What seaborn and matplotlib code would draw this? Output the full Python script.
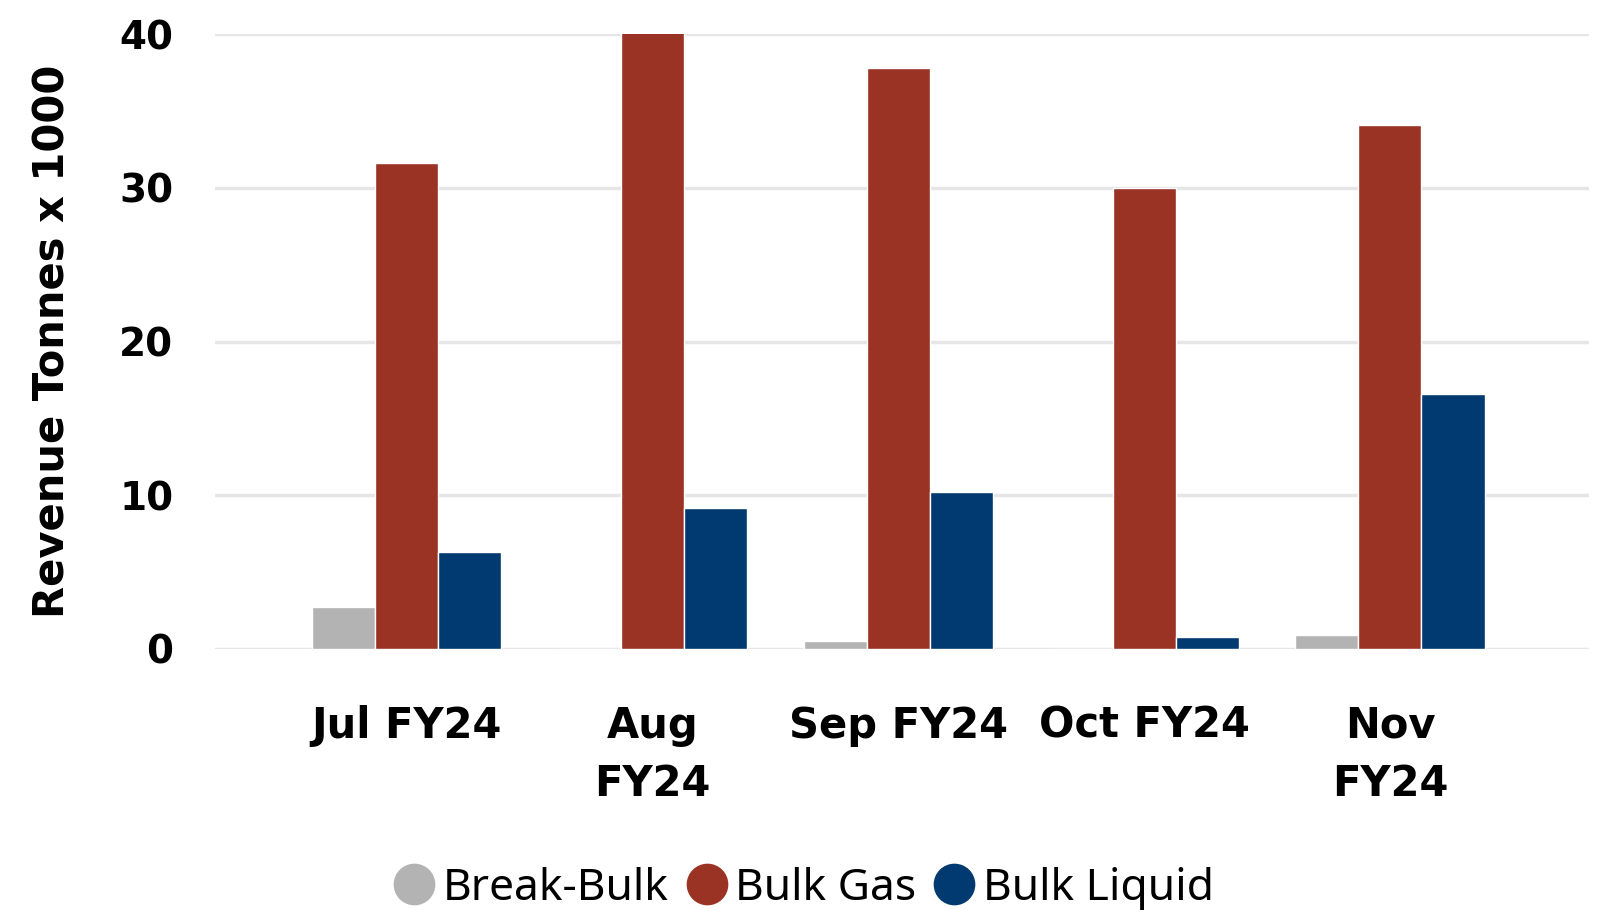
import pandas as pd
import matplotlib
matplotlib.use("Agg")
import matplotlib.pyplot as plt
import seaborn as sns
from matplotlib.lines import Line2D

# Data
months = ["Jul FY24", "Aug\nFY24", "Sep FY24", "Oct FY24", "Nov\nFY24"]
cargo_types = ["Break-Bulk", "Bulk Gas", "Bulk Liquid"]
break_bulk = [2.7, 0.0, 0.5, 0.0, 0.9]
bulk_gas = [31.6, 40.1, 37.8, 30.0, 34.1]
bulk_liquid = [6.3, 9.2, 10.2, 0.8, 16.6]
colors = ["#b3b3b3", "#9a3324", "#003a70"]

df = pd.DataFrame({
    "month": months * 3,
    "cargo": [c for c in cargo_types for _ in months],
    "value": break_bulk + bulk_gas + bulk_liquid,
})

sns.set_theme(style="white")
plt.rcParams["font.family"] = ["DejaVu Sans"]
plt.rcParams["text.color"] = "black"
plt.rcParams["xtick.color"] = "black"
plt.rcParams["ytick.color"] = "black"
plt.rcParams["axes.labelcolor"] = "black"

fig = plt.figure(figsize=(16.09, 9.10), dpi=100)
ax = fig.add_axes([215 / 1609, 1 - 649 / 910, (1589 - 215) / 1609, (649 - 34) / 910])

sns.barplot(data=df, x="month", y="value", hue="cargo", order=months,
            hue_order=cargo_types, palette=colors, saturation=1, width=0.77,
            errorbar=None, ax=ax, legend=False, zorder=3)

ax.set_ylim(0, 40)
ax.set_xlim(-0.78, 4.81)
ax.set_yticks([0, 10, 20, 30, 40])
ax.yaxis.grid(True, color="#e6e6e6", linewidth=2.5, zorder=0)
ax.set_axisbelow(True)
for s in ax.spines.values():
    s.set_visible(False)

ax.tick_params(axis="y", length=0, pad=30, labelsize=28)
ax.tick_params(axis="x", length=0, pad=40, labelsize=30)
for lab in ax.get_yticklabels() + ax.get_xticklabels():
    lab.set_fontweight("bold")
for lab in ax.get_xticklabels():
    lab.set_linespacing(1.5)

ax.set_xlabel("")
ax.set_ylabel("Revenue Tonnes x 1000", fontsize=30, fontweight="bold")
ax.yaxis.set_label_coords(-(215 - 74) / (1589 - 215), 0.5)

handles = [Line2D([0], [0], marker="o", linestyle="", markersize=29,
                  markerfacecolor=c, markeredgecolor=c) for c in colors]
fig.legend(handles, cargo_types, loc="center", bbox_to_anchor=(803 / 1609, 1 - 889 / 910),
           ncol=3, frameon=False, handlelength=1.0, handletextpad=0.15, columnspacing=0.35,
           prop={"family": "Noto Sans", "size": 32})

fig.savefig("out.png", dpi=100)
